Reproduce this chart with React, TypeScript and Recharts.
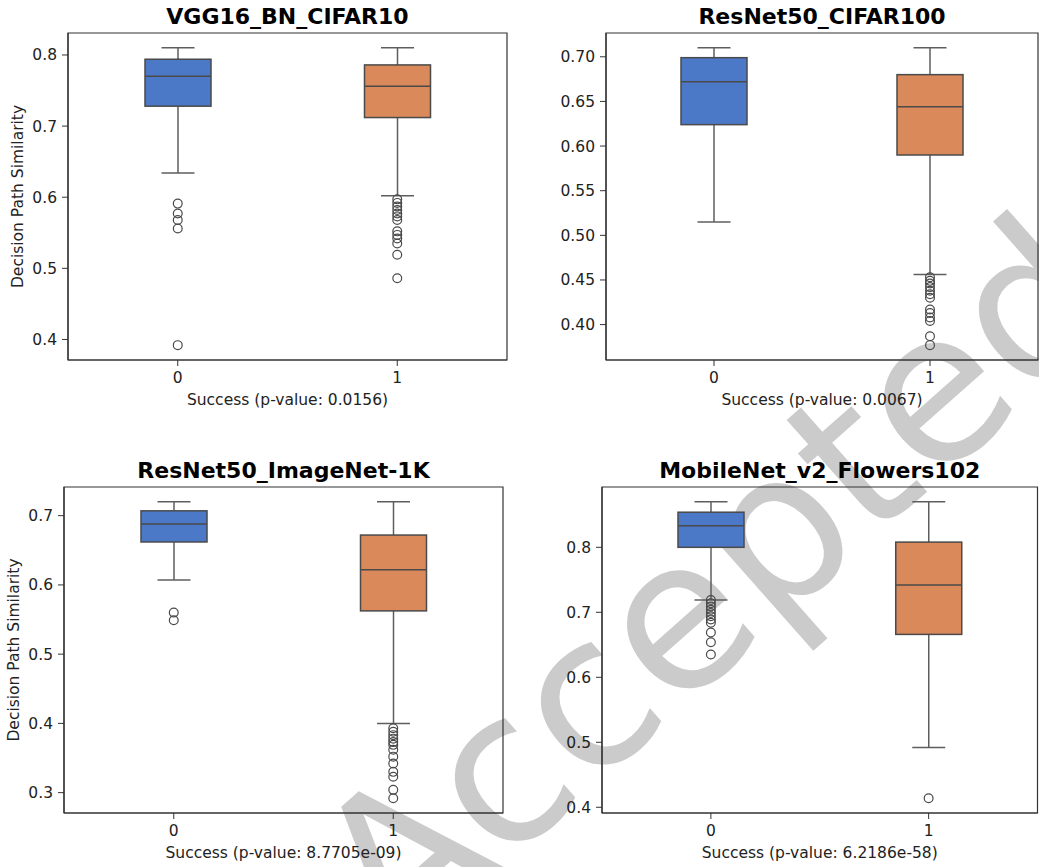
import React from 'react';
import { ComposedChart, Bar, Scatter, XAxis, YAxis, ReferenceArea } from 'recharts';

const categories = ['0', '1'];

// VGG16_BN_CIFAR10
const vggLow = [0.634, 0.602];
const vggQ1 = [0.728, 0.712];
const vggMedian = [0.77, 0.756];
const vggQ3 = [0.794, 0.786];
const vggHigh = [0.81, 0.81];
const vggOutliers0 = [0.591, 0.577, 0.568, 0.556, 0.392];
const vggOutliers1 = [0.597, 0.592, 0.587, 0.582, 0.577, 0.573, 0.568, 0.552, 0.547, 0.542, 0.535, 0.519, 0.486];
const vggTicks = [0.4, 0.5, 0.6, 0.7, 0.8];

// ResNet50_CIFAR100
const c100Low = [0.515, 0.456];
const c100Q1 = [0.624, 0.59];
const c100Median = [0.672, 0.644];
const c100Q3 = [0.699, 0.68];
const c100High = [0.71, 0.71];
const c100Outliers0: number[] = [];
const c100Outliers1 = [0.453, 0.449, 0.446, 0.442, 0.438, 0.434, 0.43, 0.417, 0.413, 0.408, 0.404, 0.387, 0.377];
const c100Ticks = [0.4, 0.45, 0.5, 0.55, 0.6, 0.65, 0.7];

// ResNet50_ImageNet-1K
const inLow = [0.607, 0.4];
const inQ1 = [0.662, 0.5625];
const inMedian = [0.688, 0.622];
const inQ3 = [0.707, 0.672];
const inHigh = [0.72, 0.72];
const inOutliers0 = [0.56, 0.549];
const inOutliers1 = [0.393, 0.388, 0.383, 0.378, 0.373, 0.369, 0.362, 0.352, 0.342, 0.33, 0.323, 0.304, 0.292];
const inTicks = [0.3, 0.4, 0.5, 0.6, 0.7];

// MobileNet_v2_Flowers102
const flLow = [0.719, 0.492];
const flQ1 = [0.8, 0.666];
const flMedian = [0.833, 0.742];
const flQ3 = [0.854, 0.808];
const flHigh = [0.87, 0.87];
const flOutliers0 = [0.719, 0.714, 0.709, 0.704, 0.699, 0.694, 0.689, 0.684, 0.669, 0.654, 0.635];
const flOutliers1 = [0.414];
const flTicks = [0.4, 0.5, 0.6, 0.7, 0.8];

const palette = ['#4c78c8', '#d9895a'];
const edge = '#4a4a4a';
const whisker = '#5e5e5e';
const spine = '#333333';
const font = '"DejaVu Sans", sans-serif';

type Row = { cat: string; low: number; q1: number; median: number; q3: number; high: number };

function boxRows(low: number[], q1: number[], median: number[], q3: number[], high: number[]): Row[] {
  return categories.map((cat, i) => ({ cat, low: low[i], q1: q1[i], median: median[i], q3: q3[i], high: high[i] }));
}

function outlierRows(lists: number[][]) {
  return lists.flatMap((vals, i) => vals.map((value) => ({ cat: categories[i], value })));
}

// whiskers, box and median in one shape; inner stats placed on the bar's own pixel span
const BoxShape = (props: any) => {
  const { x, y, width, height, payload, index } = props;
  const span = payload.high - payload.low;
  const toY = (v: number) => y + (height * (payload.high - v)) / span;
  const cx = x + width / 2;
  const yq3 = toY(payload.q3);
  const yq1 = toY(payload.q1);
  const ymed = toY(payload.median);
  const cap = width / 4;
  return (
    <g>
      <line x1={cx} x2={cx} y1={y} y2={yq3} stroke={whisker} strokeWidth={1.5} />
      <line x1={cx} x2={cx} y1={yq1} y2={y + height} stroke={whisker} strokeWidth={1.5} />
      <line x1={cx - cap} x2={cx + cap} y1={y} y2={y} stroke={whisker} strokeWidth={1.5} />
      <line x1={cx - cap} x2={cx + cap} y1={y + height} y2={y + height} stroke={whisker} strokeWidth={1.5} />
      <rect x={x} y={yq3} width={width} height={yq1 - yq3} fill={palette[index % 2]} stroke={edge} strokeWidth={1.5} />
      <line x1={x} x2={x + width} y1={ymed} y2={ymed} stroke={edge} strokeWidth={1.5} />
    </g>
  );
};

const OutlierShape = (props: any) => (
  <circle cx={props.cx} cy={props.cy} r={4.4} fill="none" stroke="#4a4a4a" strokeWidth={1.2} />
);

interface PanelProps {
  left: number;
  top: number;
  plotWidth: number;
  plotHeight: number;
  title: string;
  xLabel: string;
  yLabel?: string;
  rows: Row[];
  outliers: { cat: string; value: number }[];
  ticks: number[];
  digits: number;
}

function Panel({ left, top, plotWidth, plotHeight, title, xLabel, yLabel, rows, outliers, ticks, digits }: PanelProps) {
  const values = rows.flatMap((r) => [r.low, r.high]).concat(outliers.map((o) => o.value));
  const min = Math.min(...values);
  const max = Math.max(...values);
  const pad = (max - min) * 0.05;
  const domain: [number, number] = [min - pad, max + pad];
  const yAxisWidth = 80;
  const tickStyle = { fill: '#222', fontSize: 15.5, fontFamily: font };

  return (
    <div style={{ position: 'absolute', left: left - yAxisWidth, top: top - 40 }}>
      <ComposedChart
        width={plotWidth + yAxisWidth + 10}
        height={plotHeight + 90}
        data={rows}
        margin={{ top: 40, right: 10, bottom: 5, left: 0 }}
      >
        <XAxis
          dataKey="cat"
          type="category"
          allowDuplicatedCategory={false}
          height={45}
          tickSize={6}
          tickMargin={6}
          tickLine={{ stroke: spine }}
          axisLine={{ stroke: spine, strokeWidth: 1.2 }}
          tick={tickStyle}
          label={{ value: xLabel, position: 'insideBottom', offset: 0, fill: '#222', fontSize: 15.5, fontFamily: font }}
        />
        <YAxis
          type="number"
          domain={domain}
          allowDataOverflow
          ticks={ticks}
          tickFormatter={(v: number) => v.toFixed(digits)}
          width={yAxisWidth}
          tickSize={6}
          tickMargin={5}
          tickLine={{ stroke: spine }}
          axisLine={{ stroke: spine, strokeWidth: 1.2 }}
          tick={tickStyle}
          label={
            yLabel
              ? {
                  value: yLabel,
                  angle: -90,
                  position: 'insideLeft',
                  offset: 29,
                  fill: '#222',
                  fontSize: 15.5,
                  fontFamily: font,
                  style: { textAnchor: 'middle' },
                }
              : undefined
          }
        />
        <ReferenceArea
          y1={domain[0]}
          y2={domain[1]}
          fill="none"
          stroke={spine}
          strokeWidth={1.2}
          ifOverflow="visible"
          label={{ value: title, position: 'top', offset: 9, fill: '#000', fontSize: 22, fontWeight: 'bold', fontFamily: font }}
        />
        <Bar
          dataKey={(d: Row) => [d.low, d.high]}
          barSize={66}
          shape={BoxShape}
          isAnimationActive={false}
        />
        <Scatter data={outliers} dataKey="value" shape={OutlierShape} isAnimationActive={false} />
      </ComposedChart>
    </div>
  );
}

export default function App() {
  return (
    <div
      style={{
        position: 'absolute',
        left: 0,
        top: 0,
        width: 1039,
        height: 867,
        overflow: 'hidden',
        background: '#fff',
        fontFamily: font,
      }}
    >
      <svg width={1039} height={867} style={{ position: 'absolute', left: 0, top: 0 }}>
        <text
          x={762}
          y={638}
          transform="rotate(-41.5 762 638)"
          textAnchor="middle"
          fontSize={209}
          fontFamily={font}
          fill="#cbcbcb"
        >
          Accepted
        </text>
      </svg>
      <Panel
        left={68}
        top={33}
        plotWidth={439}
        plotHeight={327}
        title="VGG16_BN_CIFAR10"
        xLabel="Success (p-value: 0.0156)"
        yLabel="Decision Path Similarity"
        rows={boxRows(vggLow, vggQ1, vggMedian, vggQ3, vggHigh)}
        outliers={outlierRows([vggOutliers0, vggOutliers1])}
        ticks={vggTicks}
        digits={1}
      />
      <Panel
        left={605.5}
        top={33}
        plotWidth={432}
        plotHeight={327}
        title="ResNet50_CIFAR100"
        xLabel="Success (p-value: 0.0067)"
        rows={boxRows(c100Low, c100Q1, c100Median, c100Q3, c100High)}
        outliers={outlierRows([c100Outliers0, c100Outliers1])}
        ticks={c100Ticks}
        digits={2}
      />
      <Panel
        left={64}
        top={487}
        plotWidth={439}
        plotHeight={326}
        title="ResNet50_ImageNet-1K"
        xLabel="Success (p-value: 8.7705e-09)"
        yLabel="Decision Path Similarity"
        rows={boxRows(inLow, inQ1, inMedian, inQ3, inHigh)}
        outliers={outlierRows([inOutliers0, inOutliers1])}
        ticks={inTicks}
        digits={1}
      />
      <Panel
        left={602}
        top={487}
        plotWidth={435.5}
        plotHeight={326}
        title="MobileNet_v2_Flowers102"
        xLabel="Success (p-value: 6.2186e-58)"
        rows={boxRows(flLow, flQ1, flMedian, flQ3, flHigh)}
        outliers={outlierRows([flOutliers0, flOutliers1])}
        ticks={flTicks}
        digits={1}
      />
    </div>
  );
}
